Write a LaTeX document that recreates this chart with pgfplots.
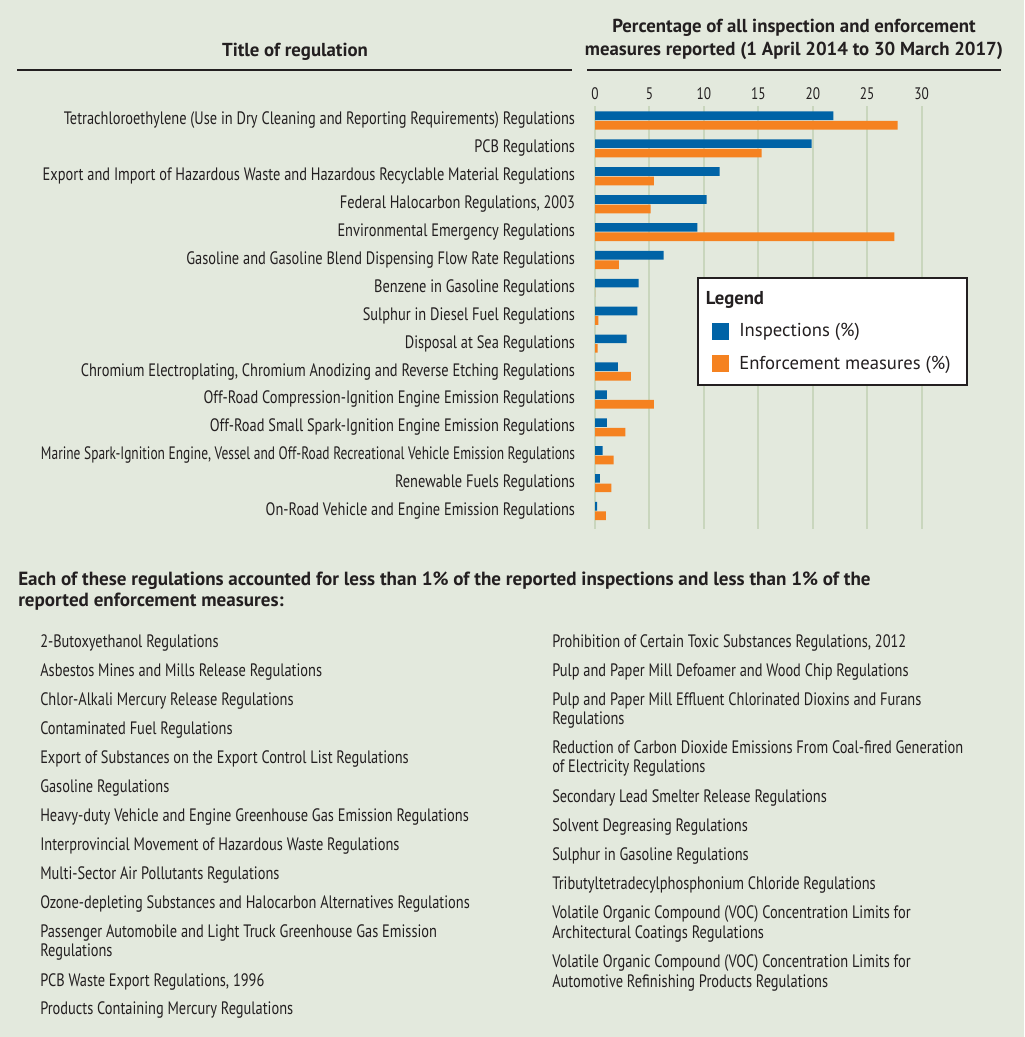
\documentclass[border=0pt]{standalone}
\usepackage{pgfplots}
\pgfplotsset{compat=1.18}
\usepackage{fontspec}
\setmainfont{PT Sans}
\newfontfamily\cond[FakeStretch=0.80]{PT Sans}
\newfontfamily\condx[FakeStretch=0.745]{PT Sans}

\definecolor{bg}{RGB}{227,233,221}
\definecolor{gridc}{RGB}{201,214,189}
\definecolor{insp}{RGB}{0,99,166}
\definecolor{enf}{RGB}{245,130,32}
\definecolor{txt}{RGB}{35,31,32}

\newcommand\lab{\cond\fontsize{13.5}{15}\selectfont}
\newcommand\head{\bfseries\fontsize{14.1}{16}\selectfont}
\newcommand\intro{\bfseries\fontsize{14.3}{16}\selectfont}

\begin{document}
\color{txt}
\begin{tikzpicture}
\begin{scope}[x=0.75pt,y=-0.75pt]
  \path[use as bounding box, fill=bg] (0,0) rectangle (1024,1037);
  % column headers
  \node[anchor=base, font=\head] at (295,56.5) {Title of regulation};
  \node[anchor=base, font=\head] at (794,32.7) {Percentage of all inspection and enforcement};
  \node[anchor=base, font=\head] at (794,55.7) {measures reported (1 April 2014 to 30 March 2017)};
  \draw[line width=1.5pt] (17,70.5) -- (572,70.5);
  \draw[line width=1.5pt] (587,70.5) -- (1001,70.5);
\end{scope}

\begin{axis}[
  at={(446.25pt,-79.5pt)}, anchor=north west,
  scale only axis, width=245pt, height=317.25pt,
  xbar, xmin=0, xmax=30, ymin=-0.52, ymax=14.645, y dir=reverse,
  axis line style={draw=none}, tick style={draw=none},
  xtick={0,5,...,30}, xticklabel pos=upper,
  xmajorgrids, grid style={gridc, line width=1.5pt},
  /pgf/number format/assume math mode=true,
  xticklabel style={font=\cond\fontsize{12.5}{14}\selectfont, inner sep=0pt, yshift=4.5pt},
  ytick={0,...,14},
  yticklabels={
    Tetrachloroethylene (Use in Dry Cleaning and Reporting Requirements) Regulations,
    PCB Regulations,
    Export and Import of Hazardous Waste and Hazardous Recyclable Material Regulations,
    {Federal Halocarbon Regulations, 2003},
    Environmental Emergency Regulations,
    Gasoline and Gasoline Blend Dispensing Flow Rate Regulations,
    Benzene in Gasoline Regulations,
    Sulphur in Diesel Fuel Regulations,
    Disposal at Sea Regulations,
    {Chromium Electroplating, Chromium Anodizing and Reverse Etching Regulations},
    Off-Road Compression-Ignition Engine Emission Regulations,
    Off-Road Small Spark-Ignition Engine Emission Regulations,
    {\condx Marine Spark-Ignition Engine, Vessel and Off-Road Recreational Vehicle Emission Regulations},
    Renewable Fuels Regulations,
    On-Road Vehicle and Engine Emission Regulations},
  yticklabel style={font=\lab, anchor=east, inner sep=0pt, xshift=-10.5pt},
  bar width=0.31,
  legend style={at={(0.313,0.5965)}, anchor=north west, draw=txt, line width=1.5pt,
    fill=white, font=\fontsize{14}{16}\selectfont, inner xsep=10pt, inner ysep=8pt,
    row sep=9pt, cells={anchor=west},
    /tikz/every even column/.append style={column sep=0pt},
    /tikz/every odd column/.append style={column sep=6pt}},
  legend image code/.code={\fill[#1, draw=none] (0pt,-6.4pt) rectangle (12.75pt,6.4pt);},
]
\addlegendimage{empty legend}
\addlegendentry{\hspace*{-25pt}\textbf{Legend}}

\addplot[fill=insp, draw=none, bar shift=-0.17] coordinates {
  (21.9,0) (19.9,1) (11.45,2) (10.25,3) (9.4,4) (6.3,5) (4.0,6) (3.9,7)
  (2.9,8) (2.1,9) (1.1,10) (1.1,11) (0.7,12) (0.45,13) (0.2,14)
};
\addlegendentry{Inspections (\%)}

\addplot[fill=enf, draw=none, bar shift=0.17] coordinates {
  (27.8,0) (15.3,1) (5.4,2) (5.1,3) (27.5,4) (2.2,5) (0,6) (0.3,7)
  (0.25,8) (3.3,9) (5.4,10) (2.8,11) (1.7,12) (1.5,13) (1.0,14)
};
\addlegendentry{Enforcement measures (\%)}
\end{axis}

\begin{scope}[x=0.75pt,y=-0.75pt]
  \node[anchor=base west, font=\intro, inner sep=0pt] at (18,585)
    {Each of these regulations accounted for less than 1\% of the reported inspections and less than 1\% of the};
  \node[anchor=base west, font=\intro, inner sep=0pt] at (18,606.5) {reported enforcement measures:};
  \begin{scope}[every node/.style={anchor=base west, font=\lab, inner sep=0pt}]
    \node at (40,647.3) {2-Butoxyethanol Regulations};
    \node at (40,676.3) {Asbestos Mines and Mills Release Regulations};
    \node at (40,705.3) {Chlor-Alkali Mercury Release Regulations};
    \node at (40,734.3) {Contaminated Fuel Regulations};
    \node at (40,763.3) {Export of Substances on the Export Control List Regulations};
    \node at (40,792.3) {Gasoline Regulations};
    \node at (40,821.3) {Heavy-duty Vehicle and Engine Greenhouse Gas Emission Regulations};
    \node at (40,850.3) {Interprovincial Movement of Hazardous Waste Regulations};
    \node at (40,879.3) {Multi-Sector Air Pollutants Regulations};
    \node at (40,908.3) {Ozone-depleting Substances and Halocarbon Alternatives Regulations};
    \node at (40,937.3) {Passenger Automobile and Light Truck Greenhouse Gas Emission};
    \node at (40,956.8) {Regulations};
    \node at (40,986.0) {PCB Waste Export Regulations, 1996};
    \node at (40,1014.7) {Products Containing Mercury Regulations};

    \node at (552,647.3) {Prohibition of Certain Toxic Substances Regulations, 2012};
    \node at (552,676.3) {Pulp and Paper Mill Defoamer and Wood Chip Regulations};
    \node at (552,705.3) {Pulp and Paper Mill Effluent Chlorinated Dioxins and Furans};
    \node at (552,724.8) {Regulations};
    \node at (552,753.3) {Reduction of Carbon Dioxide Emissions From Coal-fired Generation};
    \node at (552,772.8) {of Electricity Regulations};
    \node at (552,802.0) {Secondary Lead Smelter Release Regulations};
    \node at (552,831.0) {Solvent Degreasing Regulations};
    \node at (552,860.0) {Sulphur in Gasoline Regulations};
    \node at (552,889.0) {Tributyltetradecylphosphonium Chloride Regulations};
    \node at (552,918.3) {Volatile Organic Compound (VOC) Concentration Limits for};
    \node at (552,938.0) {Architectural Coatings Regulations};
    \node at (552,967.3) {Volatile Organic Compound (VOC) Concentration Limits for};
    \node at (552,987.0) {Automotive Refinishing Products Regulations};
  \end{scope}
\end{scope}
\end{tikzpicture}
\end{document}
